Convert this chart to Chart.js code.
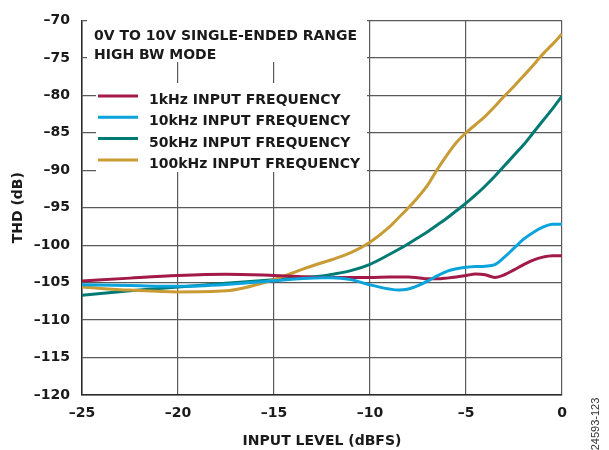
<!DOCTYPE html>
<html>
<head>
<meta charset="utf-8">
<script src="https://cdn.jsdelivr.net/npm/chart.js@4.4.1/dist/chart.umd.min.js"></script>
<style>
  html, body { margin: 0; padding: 0; background: #ffffff; }
  #wrap { position: relative; width: 609px; height: 450px; }
</style>
</head>
<body>
<div id="wrap"><canvas id="c" width="609" height="450"></canvas></div>
<script>
// ---- data ----
const inputLevel = [-25, -22.5, -20, -17.5, -15, -13.5, -12.5, -12, -11, -10, -9, -8.5, -8, -7.5, -7, -6.5, -6, -5.5, -5, -4.5, -4, -3.5, -3, -2.5, -2, -1.5, -1, -0.5, 0];

const thd1k = [-104.8, -104.4, -104.05, -103.88, -104.05, -104.2, -104.3, -104.3, -104.3, -104.3, -104.25, -104.25, -104.25, -104.35, -104.5, -104.5, -104.4, -104.25, -104.05, -103.85, -103.95, -104.3, -103.95, -103.3, -102.6, -102.0, -101.6, -101.4, -101.4];
const thd10k = [-105.3, -105.4, -105.5, -105.25, -104.75, -104.45, -104.35, -104.35, -104.6, -105.3, -105.85, -106.0, -105.85, -105.4, -104.8, -104.1, -103.5, -103.15, -102.95, -102.85, -102.8, -102.6, -101.6, -100.4, -99.2, -98.3, -97.6, -97.2, -97.2];
const thd50k = [-106.7, -106.1, -105.6, -105.1, -104.6, -104.3, -104.1, -103.9, -103.4, -102.55, -101.25, -100.55, -99.8, -99.0, -98.2, -97.3, -96.4, -95.4, -94.4, -93.3, -92.1, -90.8, -89.4, -88.0, -86.6, -85.0, -83.4, -81.8, -80.1];
const thd100k = [-105.6, -106.0, -106.25, -106.1, -104.6, -103.2, -102.35, -101.95, -101.0, -99.6, -97.6, -96.3, -95.0, -93.6, -92.0, -89.9, -88.0, -86.3, -85.0, -83.9, -82.8, -81.5, -80.1, -78.8, -77.4, -76.0, -74.5, -73.2, -71.8];

const seriesLabels = ['1kHz INPUT FREQUENCY', '10kHz INPUT FREQUENCY', '50kHz INPUT FREQUENCY', '100kHz INPUT FREQUENCY'];
const seriesColors = ['#A31A48', '#0AA3DB', '#007A72', '#C99B35'];
const annotationLines = ['0V TO 10V SINGLE-ENDED RANGE', 'HIGH BW MODE'];
const xTickValues = [-25, -20, -15, -10, -5, 0];
const yTickValues = [-120, -115, -110, -105, -100, -95, -90, -85, -80, -75, -70];
const xAxisTitle = 'INPUT LEVEL (dBFS)';
const yAxisTitle = 'THD (dB)';
const figureId = '24593-123';

const fmt = v => (v < 0 ? '\u2013' + Math.abs(v) : String(v));
const toPoints = ys => inputLevel.map((x, i) => ({ x: x, y: ys[i] }));
const allSeries = [thd1k, thd10k, thd50k, thd100k];

const FONT = "'DejaVu Sans', sans-serif";

// plugin: white boxes behind the in-plot text, the text itself, legend, figure id
const overlayPlugin = {
  id: 'overlay',
  beforeDatasetsDraw(chart) {
    const ctx = chart.ctx;
    ctx.save();
    ctx.fillStyle = '#ffffff';
    ctx.fillRect(87, 16, 280, 46);
    ctx.fillRect(96, 83, 271, 89);
    ctx.restore();
  },
  afterDraw(chart) {
    const ctx = chart.ctx;
    ctx.save();
    ctx.fillStyle = '#1a1a1a';
    ctx.font = 'bold 14px ' + FONT;
    ctx.textAlign = 'left';
    ctx.textBaseline = 'alphabetic';
    ctx.fillText(annotationLines[0], 94, 39.5);
    ctx.fillText(annotationLines[1], 94, 58.5);
    // legend
    const base0 = 104, step = 21.3;
    chart.data.datasets.forEach((ds, i) => {
      const yb = base0 + i * step;
      ctx.strokeStyle = ds.borderColor;
      ctx.lineWidth = 3;
      ctx.beginPath();
      ctx.moveTo(98, yb - 8);
      ctx.lineTo(138, yb - 8);
      ctx.stroke();
      ctx.fillStyle = '#1a1a1a';
      ctx.fillText(ds.label, 149, yb);
    });
    // figure id
    ctx.translate(596, 424);
    ctx.rotate(-Math.PI / 2);
    ctx.font = "11px 'Liberation Sans', Arial, sans-serif";
    ctx.fillStyle = '#333333';
    ctx.textAlign = 'center';
    ctx.textBaseline = 'middle';
    ctx.fillText(figureId, 0, 0);
    ctx.restore();
  }
};

new Chart(document.getElementById('c'), {
  type: 'line',
  data: {
    datasets: allSeries.map((ys, i) => ({
      label: seriesLabels[i],
      data: toPoints(ys),
      borderColor: seriesColors[i],
      backgroundColor: seriesColors[i],
      borderWidth: 3,
      pointRadius: 0,
      fill: false,
      cubicInterpolationMode: 'monotone',
      order: [1, 0, 3, 2][i]
    }))
  },
  options: {
    responsive: false,
    animation: false,
    devicePixelRatio: 1,
    layout: { padding: { left: 0, top: 13, right: 47, bottom: 0 } },
    plugins: {
      legend: { display: false },
      tooltip: { enabled: false }
    },
    scales: {
      x: {
        type: 'linear',
        min: -25,
        max: 0,
        afterFit(scale) { scale.height = 55; },
        afterBuildTicks(scale) { scale.ticks = xTickValues.map(v => ({ value: v })); },
        ticks: {
          padding: 10,
          color: '#1a1a1a',
          font: { family: FONT, size: 14, weight: 'bold' },
          callback: v => fmt(v),
          maxRotation: 0
        },
        grid: { color: '#5a5a5a', lineWidth: 1.2, drawTicks: false },
        border: { color: '#2a2a2a', width: 1.5 },
        title: {
          display: true,
          text: xAxisTitle,
          color: '#1a1a1a',
          font: { family: FONT, size: 14, weight: 'bold' },
          padding: { top: 0, bottom: 0 }
        }
      },
      y: {
        type: 'linear',
        min: -120,
        max: -70,
        afterFit(scale) { scale.width = 82; },
        afterBuildTicks(scale) { scale.ticks = yTickValues.map(v => ({ value: v })); },
        ticks: {
          padding: 12,
          color: '#1a1a1a',
          font: { family: FONT, size: 14, weight: 'bold' },
          callback: v => fmt(v)
        },
        grid: { color: '#5a5a5a', lineWidth: 1.2, drawTicks: false },
        border: { color: '#2a2a2a', width: 1.5 },
        title: {
          display: true,
          text: yAxisTitle,
          color: '#1a1a1a',
          font: { family: FONT, size: 14, weight: 'bold' },
          padding: { top: 10, bottom: 0 }
        }
      }
    }
  },
  plugins: [overlayPlugin]
});
</script>
</body>
</html>
